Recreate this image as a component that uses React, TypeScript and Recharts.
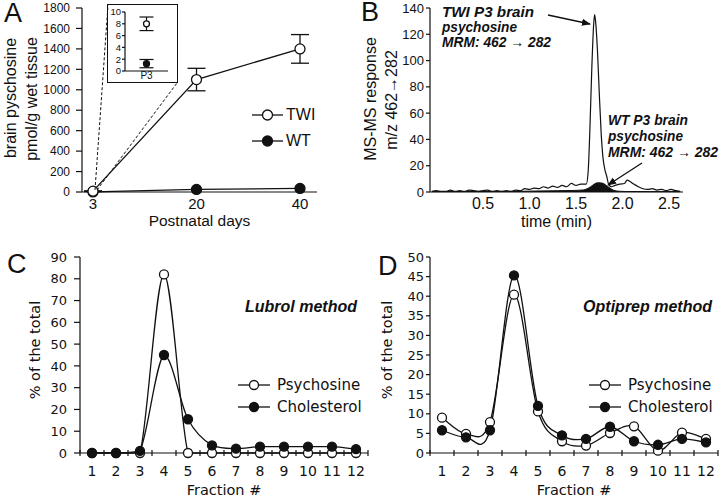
import React from 'react';
import { LineChart, ComposedChart, Line, Area, XAxis, YAxis, ErrorBar, Legend } from 'recharts';

const ARIAL = '"Liberation Sans", Arial, sans-serif';
const VERDANA = '"DejaVu Sans", Verdana, sans-serif';
const INK = '#111';

// Panel A: brain psychosine (pmol/g wet tissue) by postnatal day
const days = ['3', '20', '40'];
const twiLevel = [8, 1100, 1400];
const twiLevelErr = [4, 110, 140];
const wtLevel = [1, 25, 35];
const levelTicks = [0, 200, 400, 600, 800, 1000, 1200, 1400, 1600, 1800];

// inset of panel A, P3 only
const insetDays = ['P3'];
const insetTwi = [8];
const insetTwiErr = [1.15];
const insetWt = [1.25];
const insetWtErr = [0.7];
const insetTicks = [0, 2, 4, 6, 8, 10];

// Panel B: MRM 462 -> 282 chromatograms
const twiTime = [
  -0.05, 0, 0.05, 0.1, 0.15, 0.2, 0.25, 0.3, 0.35, 0.4, 0.45, 0.5, 0.55, 0.6, 0.65, 0.7, 0.75, 0.8, 0.85,
  0.9, 0.95, 1.0, 1.05, 1.1, 1.15, 1.2, 1.25, 1.3, 1.35, 1.4, 1.45, 1.5, 1.55,
  1.61, 1.63, 1.65, 1.67, 1.69, 1.7, 1.71, 1.73, 1.75, 1.77, 1.79, 1.81, 1.83, 1.85, 1.88,
  1.92, 1.97, 2.02, 2.05, 2.08, 2.12, 2.17, 2.22, 2.27, 2.32, 2.37, 2.42, 2.47, 2.52, 2.57, 2.62,
];
const twiResp = [
  0.5, 1, 0.5, 0.5, 1.5, 0.5, 1, 0.5, 1.5, 1, 0.5, 1, 1.5, 0.5, 1, 0.5, 1, 0.5, 1.5,
  1, 2.5, 2, 3, 2.5, 4, 3, 4.5, 3.5, 5, 4, 6.5, 5, 6,
  6, 15, 50, 95, 128, 135, 130, 108, 75, 45, 26, 17, 12, 6, 4,
  5, 6, 6.5, 9, 8, 6, 4, 2.5, 2, 2.5, 1.5, 2, 1, 2, 1, 0.5,
];
const wtTime = [-0.05, 0.5, 0.9, 1.1, 1.3, 1.48, 1.58, 1.63, 1.68, 1.73, 1.78, 1.83, 1.88, 1.93, 2.03, 2.3, 2.62];
const wtResp = [0.3, 0.4, 0.5, 0.8, 1.0, 1.2, 1.6, 2.8, 5.2, 7, 6.8, 4.8, 2.2, 0.8, 0.4, 0.3, 0.3];
const timeTicks = [0.5, 1, 1.5, 2, 2.5];
const respTicks = [0, 20, 40, 60, 80, 100, 120, 140];

// Panels C and D: % of total per gradient fraction
const fractions = [1, 2, 3, 4, 5, 6, 7, 8, 9, 10, 11, 12];
const fractionTicks = [0.5, 1, 1.5, 2, 2.5, 3, 3.5, 4, 4.5, 5, 5.5, 6, 6.5, 7, 7.5, 8, 8.5, 9, 9.5, 10, 10.5, 11, 11.5, 12, 12.5];
const lubrolPsychosine = [0, 0, 0, 82, 0, 0, 0, 0, 0, 0, 0, 0];
const lubrolCholesterol = [0, 0, 1, 45, 15.5, 3.5, 2, 2.9, 2.9, 2.9, 2.9, 1.8];
const optiPsychosine = [9, 4.9, 7.9, 40.4, 10.6, 3, 1.9, 5.1, 6.8, 0.6, 5.2, 3.6];
const optiCholesterol = [5.8, 4, 5.8, 45.3, 12, 4.5, 3.6, 6.7, 3, 2.1, 3.6, 2.7];
const lubrolTicks = [0, 10, 20, 30, 40, 50, 60, 70, 80, 90];
const optiTicks = [0, 5, 10, 15, 20, 25, 30, 35, 40, 45, 50];

const openSeries = ['TWI', 'Psychosine'];

const rowsA = days.map((day, i) => ({ day, twi: twiLevel[i], twiErr: twiLevelErr[i], wt: wtLevel[i] }));
const rowsInset = insetDays.map((day, i) => ({
  day, twi: insetTwi[i], twiErr: insetTwiErr[i], wt: insetWt[i], wtErr: insetWtErr[i],
}));
const twiRows = twiTime.map((t, i) => ({ t, v: twiResp[i] }));
const wtRows = wtTime.map((t, i) => ({ t, v: wtResp[i] }));
const lubrolRows = fractions.map((f, i) => ({ f, psy: lubrolPsychosine[i], chol: lubrolCholesterol[i] }));
const optiRows = fractions.map((f, i) => ({ f, psy: optiPsychosine[i], chol: optiCholesterol[i] }));

// Excel-style smoothed line (Catmull-Rom through the points).
// With clamp on, control points stay between the segment ends, so no overshoot.
const makeSmoothCurve = (clamp: boolean) => (context: any) => {
  let pts: number[][] = [];
  const lim = (v: number, a: number, b: number) => (clamp ? Math.min(Math.max(v, Math.min(a, b)), Math.max(a, b)) : v);
  return {
    areaStart() {},
    areaEnd() {},
    lineStart() { pts = []; },
    point(x: number, y: number) { pts.push([x, y]); },
    lineEnd() {
      if (!pts.length) return;
      context.moveTo(pts[0][0], pts[0][1]);
      for (let i = 0; i < pts.length - 1; i++) {
        const p0 = pts[i - 1] || pts[i];
        const p1 = pts[i];
        const p2 = pts[i + 1];
        const p3 = pts[i + 2] || p2;
        context.bezierCurveTo(
          p1[0] + (p2[0] - p0[0]) / 6, lim(p1[1] + (p2[1] - p0[1]) / 6, p1[1], p2[1]),
          p2[0] - (p3[0] - p1[0]) / 6, lim(p2[1] - (p3[1] - p1[1]) / 6, p1[1], p2[1]),
          p2[0], p2[1],
        );
      }
    },
  };
};

const openDot = (r: number) => ({ r, fill: '#fff', stroke: INK, strokeWidth: 1.3 });
const filledDot = (r: number) => ({ r, fill: INK, stroke: INK, strokeWidth: 1.3 });

const SeriesLegend = (props: any) => {
  const { payload = [], order, rowHeight, fontSize, fontFamily, lineWidth, gap, r } = props;
  const items = [...payload].sort((a: any, b: any) => order.indexOf(a.value) - order.indexOf(b.value));
  return (
    <div>
      {items.map((entry: any) => {
        const open = openSeries.includes(entry.value);
        return (
          <div key={entry.value} style={{ display: 'flex', alignItems: 'center', height: rowHeight }}>
            <svg width={lineWidth} height={14} style={{ display: 'block' }}>
              <line x1={0} y1={7} x2={lineWidth} y2={7} stroke={INK} strokeWidth={1.3} />
              <circle cx={lineWidth / 2} cy={7} r={r} fill={open ? '#fff' : INK} stroke={INK} strokeWidth={1.3} />
            </svg>
            <span style={{ marginLeft: gap, fontSize, fontFamily, color: INK, lineHeight: 1, whiteSpace: 'nowrap' }}>
              {entry.value}
            </span>
          </div>
        );
      })}
    </div>
  );
};

const FractionTick = (props: any) => {
  const { x, y, payload } = props;
  const v = payload.value;
  if (Number.isInteger(v)) {
    return (
      <text x={x} y={y + 23} textAnchor="middle" fontSize={14} fontFamily={VERDANA} fill={INK}>
        {v}
      </text>
    );
  }
  return <line x1={x} y1={y - 3} x2={x} y2={y + 3} stroke={INK} strokeWidth={1.2} />;
};

const InsetTick = (props: any) => {
  const { x, y, payload } = props;
  return (
    <text x={x} y={y + 8} textAnchor="middle" fontSize={10} fontFamily={ARIAL} fill={INK} style={{ fill: INK }}>
      {payload.value}
    </text>
  );
};

const axisLine = { stroke: INK, strokeWidth: 1.2 };

const FractionChart = ({ rows, ticks, yMax, yWidth, width, right, tickSize, tickMargin, legendLeft, clamp }: any) => {
  const curve = makeSmoothCurve(clamp);
  return (
    <LineChart width={width} height={257} data={rows} margin={{ top: 17, right, left: 0, bottom: 0 }}>
      <XAxis
        dataKey="f"
        type="number"
        domain={[0.5, 12.5]}
        ticks={fractionTicks}
        interval={0}
        tickSize={0}
        tickMargin={0}
        tickLine={false}
        axisLine={axisLine}
        tick={FractionTick}
        height={44}
        label={{ value: 'Fraction #', position: 'insideBottom', offset: 2, style: { fontSize: 14.5, fontFamily: VERDANA, fill: INK } }}
      />
      <YAxis
        type="number"
        domain={[0, yMax]}
        ticks={ticks}
        interval={0}
        width={yWidth}
        tickSize={tickSize}
        tickMargin={tickMargin}
        axisLine={axisLine}
        tickLine={axisLine}
        tick={{ fontSize: 13, fontFamily: VERDANA, fill: INK }}
      />
      <Line dataKey="psy" name="Psychosine" type={curve} stroke={INK} strokeWidth={1.3} dot={openDot(4.5)} activeDot={false} isAnimationActive={false} />
      <Line dataKey="chol" name="Cholesterol" type={curve} stroke={INK} strokeWidth={1.3} dot={filledDot(4.5)} activeDot={false} isAnimationActive={false} />
      <Legend
        layout="vertical"
        align="center"
        verticalAlign="middle"
        wrapperStyle={{ left: legendLeft, top: 134, width: 'auto' }}
        content={(p: any) => (
          <SeriesLegend {...p} order={['Psychosine', 'Cholesterol']} rowHeight={22} fontSize={15} fontFamily={VERDANA} lineWidth={32} gap={7} r={4.5} />
        )}
      />
    </LineChart>
  );
};

export default function App() {
  const textStyle = { fill: INK };
  return (
    <div style={{ position: 'absolute', left: 0, top: 0, width: 720, height: 497, background: '#fff', overflow: 'hidden' }}>
      {/* Panel A */}
      <div style={{ position: 'absolute', left: 0, top: 0 }}>
        <LineChart width={330} height={235} data={rowsA} margin={{ top: 8, right: 13, left: 0, bottom: 0 }}>
          <XAxis
            dataKey="day"
            type="category"
            padding={{ left: 11, right: 17 }}
            tickLine={false}
            tickSize={0}
            tickMargin={6}
            axisLine={axisLine}
            tick={{ fontSize: 15, fontFamily: ARIAL, fill: INK }}
            height={43}
            label={{ value: 'Postnatal days', position: 'insideBottom', offset: 9, style: { fontSize: 15.5, fontFamily: ARIAL, fill: INK } }}
          />
          <YAxis
            type="number"
            domain={[0, 1800]}
            ticks={levelTicks}
            interval={0}
            width={82}
            tickSize={6}
            tickMargin={6}
            axisLine={axisLine}
            tickLine={axisLine}
            tick={{ fontSize: 12, fontFamily: ARIAL, fill: INK }}
          />
          <Line dataKey="wt" name="WT" type="linear" stroke={INK} strokeWidth={1.3} dot={filledDot(5)} activeDot={false} isAnimationActive={false} />
          <Line dataKey="twi" name="TWI" type="linear" stroke={INK} strokeWidth={1.3} dot={openDot(5)} activeDot={false} isAnimationActive={false}>
            <ErrorBar dataKey="twiErr" direction="y" width={9} stroke={INK} strokeWidth={1.3} />
          </Line>
          <Legend
            layout="vertical"
            align="center"
            verticalAlign="middle"
            wrapperStyle={{ left: 252, top: 102, width: 'auto' }}
            content={(p: any) => (
              <SeriesLegend {...p} order={['TWI', 'WT']} rowHeight={26} fontSize={16} fontFamily={ARIAL} lineWidth={31} gap={3} r={5} />
            )}
          />
        </LineChart>
      </div>

      {/* Inset of panel A */}
      <div style={{ position: 'absolute', left: 107, top: 4, width: 71, height: 79, border: `1px solid ${INK}`, boxSizing: 'border-box', background: '#fff' }}>
        <LineChart width={69} height={77} data={rowsInset} margin={{ top: 7, right: 9, left: 0, bottom: 0 }}>
          <XAxis
            dataKey="day"
            type="category"
            tickLine={false}
            tickSize={0}
            tickMargin={0}
            axisLine={axisLine}
            tick={InsetTick}
            height={11}
          />
          <YAxis
            type="number"
            domain={[0, 10]}
            ticks={insetTicks}
            interval={0}
            width={17}
            tickSize={3}
            tickMargin={1}
            axisLine={axisLine}
            tickLine={axisLine}
            tick={{ fontSize: 9.5, fontFamily: ARIAL, fill: INK }}
          />
          <Line dataKey="wt" name="WT" stroke="none" dot={filledDot(3)} activeDot={false} isAnimationActive={false}>
            <ErrorBar dataKey="wtErr" direction="y" width={7} stroke={INK} strokeWidth={1.2} />
          </Line>
          <Line dataKey="twi" name="TWI" stroke="none" dot={openDot(3)} activeDot={false} isAnimationActive={false}>
            <ErrorBar dataKey="twiErr" direction="y" width={7} stroke={INK} strokeWidth={1.2} />
          </Line>
        </LineChart>
      </div>

      {/* Panel B */}
      <div style={{ position: 'absolute', left: 360, top: 0 }}>
        <ComposedChart width={330} height={235} margin={{ top: 8, right: 7, left: 0, bottom: 0 }}>
          <XAxis
            dataKey="t"
            type="number"
            domain={[-0.07, 2.65]}
            ticks={timeTicks}
            interval={0}
            tickFormatter={(v: number) => v.toFixed(1)}
            tickLine={false}
            tickSize={0}
            tickMargin={6}
            axisLine={axisLine}
            tick={{ fontSize: 16, fontFamily: ARIAL, fill: INK }}
            height={43}
            label={{ value: 'time (min)', position: 'insideBottom', offset: 8, style: { fontSize: 16, fontFamily: ARIAL, fill: INK } }}
          />
          <YAxis
            type="number"
            domain={[0, 140]}
            ticks={respTicks}
            interval={0}
            width={70}
            tickSize={4}
            tickMargin={2}
            axisLine={axisLine}
            tickLine={axisLine}
            tick={{ fontSize: 13, fontFamily: ARIAL, fill: INK }}
          />
          <Area data={wtRows} dataKey="v" type="monotone" stroke={INK} strokeWidth={1} fill={INK} fillOpacity={1} dot={false} activeDot={false} isAnimationActive={false} />
          <Line data={twiRows} dataKey="v" type="monotone" stroke={INK} strokeWidth={1.2} dot={false} activeDot={false} isAnimationActive={false} />
        </ComposedChart>
      </div>

      {/* Panel C */}
      <div style={{ position: 'absolute', left: 0, top: 240 }}>
        <FractionChart rows={lubrolRows} ticks={lubrolTicks} yMax={90} yWidth={80} width={372} right={4} tickSize={6} tickMargin={7} legendLeft={238} clamp />
      </div>

      {/* Panel D */}
      <div style={{ position: 'absolute', left: 360, top: 240 }}>
        <FractionChart rows={optiRows} ticks={optiTicks} yMax={50} yWidth={70} width={360} right={2} tickSize={4} tickMargin={2} legendLeft={229} clamp={false} />
      </div>

      {/* letters, axis titles and annotations */}
      <svg width={720} height={497} style={{ position: 'absolute', left: 0, top: 0, pointerEvents: 'none' }}>
        <defs>
          <marker id="head" viewBox="0 0 10 10" refX={9} refY={5} markerWidth={9} markerHeight={9} orient="auto" markerUnits="userSpaceOnUse">
            <path d="M0,1 L10,5 L0,9 Z" fill={INK} />
          </marker>
        </defs>
        <g fontFamily={ARIAL} fontSize={27} style={textStyle}>
          <text x={4} y={22}>A</text>
          <text x={361} y={21}>B</text>
          <text x={7} y={273}>C</text>
          <text x={378} y={275}>D</text>
        </g>

        <g fontFamily={ARIAL} fontSize={16} style={textStyle} textAnchor="middle" dominantBaseline="central">
          <text x={10} y={98} transform="rotate(-90 10 98)">brain pyschosine</text>
          <text x={31} y={99} transform="rotate(-90 31 99)">pmol/g wet tissue</text>
          <text x={370} y={99} transform="rotate(-90 370 99)">MS-MS response</text>
          <text x={391} y={100} transform="rotate(-90 391 100)">m/z 462→282</text>
        </g>
        <g fontFamily={VERDANA} fontSize={14.5} style={textStyle} textAnchor="middle" dominantBaseline="central">
          <text x={35} y={350} transform="rotate(-90 35 350)">% of the total</text>
          <text x={387} y={350} transform="rotate(-90 387 350)">% of the total</text>
        </g>

        <line x1={95} y1={190} x2={108} y2={5} stroke={INK} strokeWidth={1} strokeDasharray="3 2" />
        <line x1={97} y1={190} x2={177} y2={83} stroke={INK} strokeWidth={1} strokeDasharray="3 2" />

        <g fontFamily={ARIAL} fontSize={15} fontWeight="bold" fontStyle="italic" style={textStyle}>
          <text x={442} y={17} textLength={92} lengthAdjust="spacingAndGlyphs">TWI P3 brain</text>
          <text x={442} y={31.5} textLength={75} lengthAdjust="spacingAndGlyphs">psychosine</text>
          <text x={442} y={47} textLength={109} lengthAdjust="spacingAndGlyphs">MRM: 462 → 282</text>
          <text x={608} y={125} textLength={80} lengthAdjust="spacingAndGlyphs">WT P3 brain</text>
          <text x={608} y={140.5} textLength={75} lengthAdjust="spacingAndGlyphs">psychosine</text>
          <text x={608} y={156.5} textLength={110} lengthAdjust="spacingAndGlyphs">MRM: 462 → 282</text>
        </g>
        <line x1={548} y1={15} x2={590} y2={24} stroke={INK} strokeWidth={1.3} markerEnd="url(#head)" />
        <line x1={642} y1={163} x2={608} y2={185} stroke={INK} strokeWidth={1.3} markerEnd="url(#head)" />

        <g fontFamily={ARIAL} fontSize={16} fontWeight="bold" fontStyle="italic" style={textStyle} textAnchor="end">
          <text x={357} y={312}>Lubrol method</text>
          <text x={712} y={312}>Optiprep method</text>
        </g>
      </svg>
    </div>
  );
}
